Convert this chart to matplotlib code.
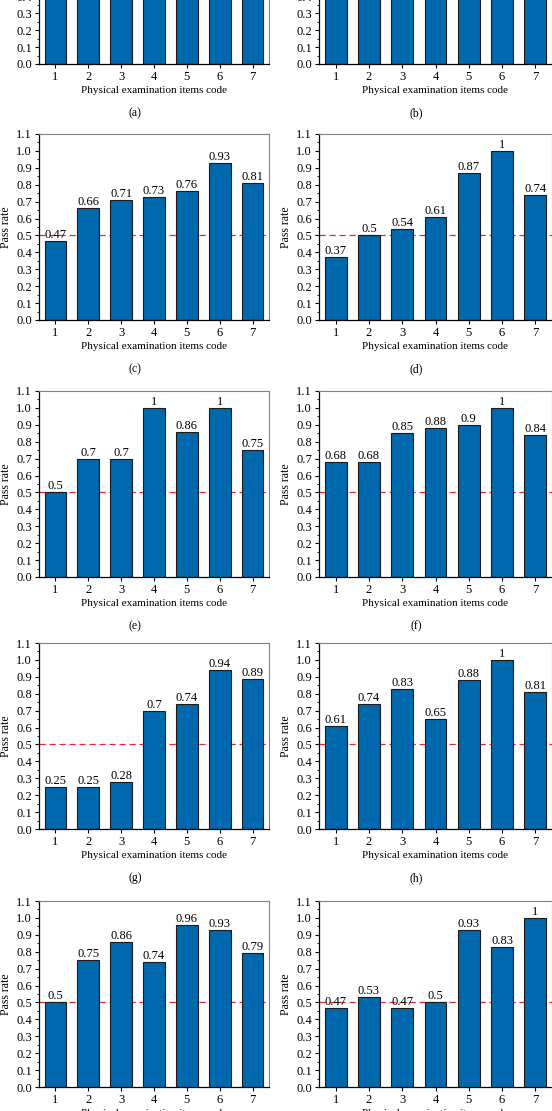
import numpy as np
import matplotlib.pyplot as plt
from matplotlib.ticker import MultipleLocator

plt.rcParams['font.family'] = ['Liberation Serif', 'DejaVu Serif']

codes = [1, 2, 3, 4, 5, 6, 7]
panel_names = ['(a)', '(b)', '(c)', '(d)', '(e)', '(f)', '(g)', '(h)', '(i)', '(j)']
# (a) and (b) are cut off at the top of the picture, only the lower part shows
rate_a = [0.82, 0.86, 0.9, 0.84, 0.88, 0.95, 0.8]
rate_b = [0.78, 0.85, 0.88, 0.83, 0.9, 0.97, 0.86]
rate_c = [0.47, 0.66, 0.71, 0.73, 0.76, 0.93, 0.81]
rate_d = [0.37, 0.5, 0.54, 0.61, 0.87, 1, 0.74]
rate_e = [0.5, 0.7, 0.7, 1, 0.86, 1, 0.75]
rate_f = [0.68, 0.68, 0.85, 0.88, 0.9, 1, 0.84]
rate_g = [0.25, 0.25, 0.28, 0.7, 0.74, 0.94, 0.89]
rate_h = [0.61, 0.74, 0.83, 0.65, 0.88, 1, 0.81]
rate_i = [0.5, 0.75, 0.86, 0.74, 0.96, 0.93, 0.79]
rate_j = [0.47, 0.53, 0.47, 0.5, 0.93, 0.83, 1]
threshold = 0.5

rates = [rate_a, rate_b, rate_c, rate_d, rate_e, rate_f, rate_g, rate_h, rate_i, rate_j]

W, H = 552, 1111
fig = plt.figure(figsize=(W / 100, H / 100), dpi=100)

row_bottoms = [64, 320, 577, 829, 1087]   # pixels from top
col_left = [39, 319]
col_width = [230, 233]
col_label_x = [135, 416]
ax_h = 186

for k, vals in enumerate(rates):
    r, c = divmod(k, 2)
    b = row_bottoms[r]
    ax = fig.add_axes([col_left[c] / W, 1 - b / H, col_width[c] / W, ax_h / H])
    ax.bar(codes, vals, width=0.66, color='#0068ad', edgecolor='#1a1a1a',
           linewidth=0.8, zorder=2)
    ax.axhline(threshold, color='#e8262b', linestyle=(0, (5, 3)), linewidth=0.9, zorder=1)
    # top row: upper part (with value labels) lies above the picture
    if r > 0:
        for x, v in zip(codes, vals):
            ax.text(x, v, f"{v:g}", ha='center', va='bottom', fontsize=9, zorder=3)
    ax.set_xlim(0.5, 7.5)
    ax.set_ylim(0, 1.1)
    ax.set_xticks(codes)
    ax.yaxis.set_major_locator(MultipleLocator(0.1))
    ax.yaxis.set_minor_locator(MultipleLocator(0.05))
    ax.yaxis.set_major_formatter(lambda y, p: f"{y:.1f}")
    ax.tick_params(axis='both', which='major', direction='out', length=3,
                   width=0.8, labelsize=9, pad=2)
    ax.tick_params(axis='y', which='minor', direction='out', length=1.5, width=0.6)
    ax.tick_params(top=False, right=False)
    for s in ['top', 'right']:
        ax.spines[s].set_color('#808080')
        ax.spines[s].set_linewidth(0.8)
    for s in ['left', 'bottom']:
        ax.spines[s].set_color('black')
        ax.spines[s].set_linewidth(0.9)
    ax.set_xlabel('Physical examination items code', fontsize=8, labelpad=2)
    ax.set_ylabel('Pass rate', fontsize=8.5, labelpad=3)
    fig.text(col_label_x[c] / W, 1 - (b + 49) / H, panel_names[k],
             ha='center', va='center', fontsize=8.5)

fig.savefig('out.png', dpi=100)
